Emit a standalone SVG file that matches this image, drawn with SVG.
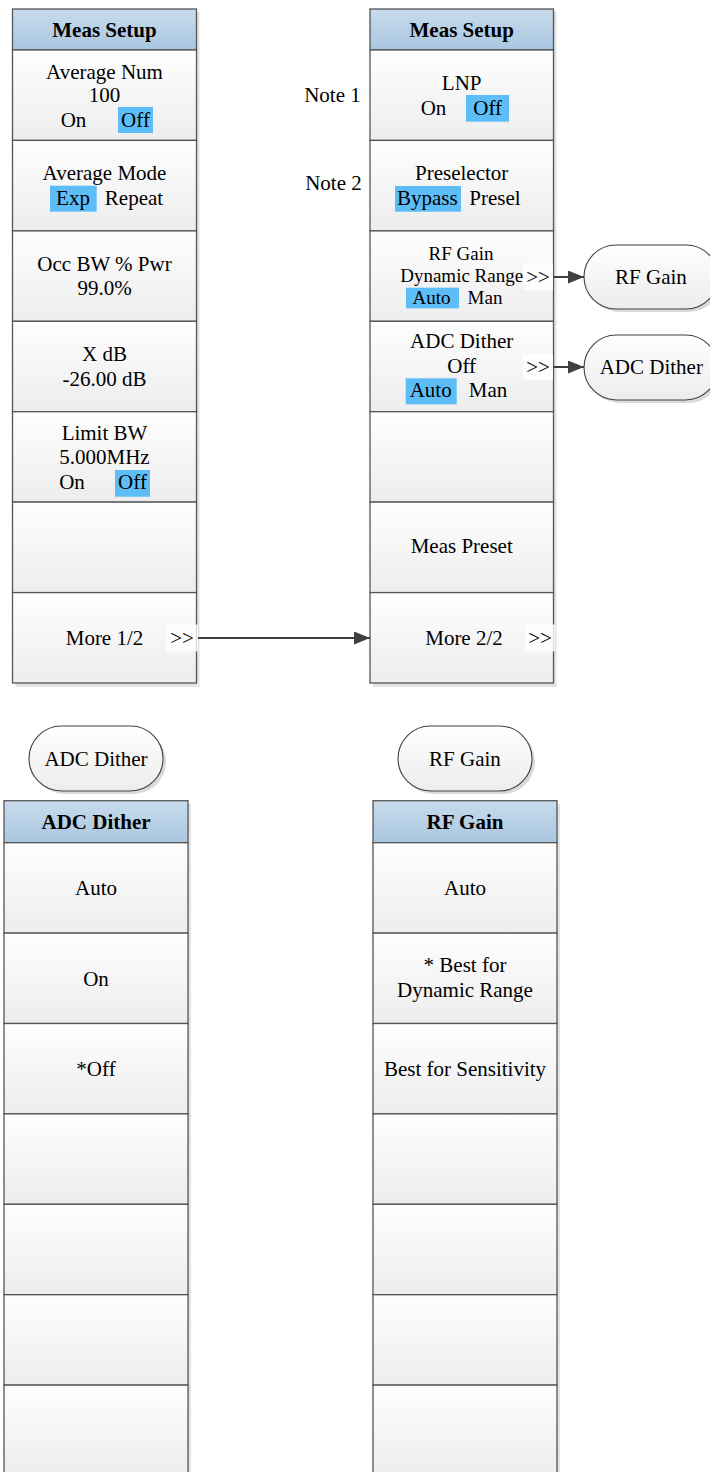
<svg xmlns="http://www.w3.org/2000/svg" width="710" height="1472" viewBox="0 0 710 1472">
<defs>
<linearGradient id="hg" x1="0" y1="0" x2="0" y2="1"><stop offset="0" stop-color="#c8dbec"/><stop offset="1" stop-color="#a9c6e0"/></linearGradient>
<linearGradient id="cg" x1="0" y1="0" x2="0" y2="1"><stop offset="0" stop-color="#fefefe"/><stop offset="1" stop-color="#ededed"/></linearGradient>
<linearGradient id="pg" x1="0" y1="0" x2="0" y2="1"><stop offset="0" stop-color="#ffffff"/><stop offset="1" stop-color="#ececec"/></linearGradient>
<marker id="ah" markerUnits="userSpaceOnUse" markerWidth="16" markerHeight="13" refX="16" refY="6.5" orient="auto"><path d="M0,0 L16,6.5 L0,13 z" fill="#404040"/></marker>
</defs>
<style>
text{font-family:"Liberation Serif","Times New Roman",serif;font-size:21px;fill:#000;text-anchor:middle}
.b{font-weight:bold}
.s{font-size:19px}
.h{fill:url(#hg);stroke:#555;stroke-width:1.3}
.c{fill:url(#cg);stroke:#555;stroke-width:1.3}
.sh{fill:#e3e3e3}
.hl{fill:#5dbdf7}
.pill{fill:url(#pg);stroke:#404040;stroke-width:1.1}
.psh{fill:#dadada}
.gt{fill:#ffffff;fill-opacity:0.8}
.ln{stroke:#404040;stroke-width:2;fill:none;marker-end:url(#ah)}
</style>

<g id="menu-meas-setup-1">
<rect class="sh" x="15.5" y="12" width="184" height="675"/>
<rect class="h" x="12.5" y="9" width="184" height="41"/>
<rect class="c" x="12.5" y="50" width="184" height="90.4"/>
<rect class="c" x="12.5" y="140.4" width="184" height="90.5"/>
<rect class="c" x="12.5" y="230.9" width="184" height="90.4"/>
<rect class="c" x="12.5" y="321.3" width="184" height="90.4"/>
<rect class="c" x="12.5" y="411.7" width="184" height="90.4"/>
<rect class="c" x="12.5" y="502.1" width="184" height="90.5"/>
<rect class="c" x="12.5" y="592.6" width="184" height="90.4"/>
<text class="b" x="104.5" y="36.5">Meas Setup</text>
<text x="104.5" y="78.5">Average Num</text>
<text x="104.5" y="101.5">100</text>
<text x="73.5" y="127">On</text>
<rect class="hl" x="118" y="107" width="35" height="26"/>
<text x="135.5" y="127">Off</text>
<text x="104.5" y="180">Average Mode</text>
<rect class="hl" x="50" y="185.7" width="46.7" height="26"/>
<text x="73" y="204.5">Exp</text>
<text x="134" y="204.5">Repeat</text>
<text x="104.5" y="270.5">Occ BW % Pwr</text>
<text x="104.5" y="295">99.0%</text>
<text x="104.5" y="361">X dB</text>
<text x="104.5" y="386">-26.00 dB</text>
<text x="104.5" y="440">Limit BW</text>
<text x="104.5" y="464.3">5.000MHz</text>
<text x="72" y="488.5">On</text>
<rect class="hl" x="115" y="470" width="35" height="26.7"/>
<text x="132.5" y="488.5">Off</text>
<text x="104.5" y="645">More 1/2</text>
<rect class="gt" x="166" y="624.5" width="32" height="27"/>
<text x="182" y="645">&gt;&gt;</text>
</g>

<g id="menu-meas-setup-2">
<rect class="sh" x="373" y="12" width="183.5" height="675"/>
<rect class="h" x="370" y="9" width="183.5" height="41"/>
<rect class="c" x="370" y="50" width="183.5" height="90.4"/>
<rect class="c" x="370" y="140.4" width="183.5" height="90.5"/>
<rect class="c" x="370" y="230.9" width="183.5" height="90.4"/>
<rect class="c" x="370" y="321.3" width="183.5" height="90.4"/>
<rect class="c" x="370" y="411.7" width="183.5" height="90.4"/>
<rect class="c" x="370" y="502.1" width="183.5" height="90.5"/>
<rect class="c" x="370" y="592.6" width="183.5" height="90.4"/>
<text class="b" x="461.7" y="36.5">Meas Setup</text>
<text x="461.7" y="90">LNP</text>
<text x="433.5" y="114.5">On</text>
<rect class="hl" x="466" y="95" width="43" height="26.7"/>
<text x="487.7" y="114.5">Off</text>
<text x="461.7" y="180">Preselector</text>
<rect class="hl" x="395" y="186" width="66" height="25.7"/>
<text x="427.3" y="204.5">Bypass</text>
<text x="495" y="204.5">Presel</text>
<text class="s" x="461" y="259.5">RF Gain</text>
<text class="s" x="461.7" y="282">Dynamic Range</text>
<rect class="gt" x="523" y="263" width="30" height="27"/>
<text x="538" y="284">&gt;&gt;</text>
<rect class="hl" x="406" y="287.7" width="53" height="20.6"/>
<text class="s" x="431.5" y="303.5">Auto</text>
<text class="s" x="485" y="303.5">Man</text>
<text x="461.7" y="348.3">ADC Dither</text>
<text x="461.7" y="372.7">Off</text>
<rect class="gt" x="523" y="354" width="30" height="26"/>
<text x="538" y="374">&gt;&gt;</text>
<rect class="hl" x="405.7" y="378.3" width="51" height="26"/>
<text x="430.7" y="396.7">Auto</text>
<text x="488" y="396.7">Man</text>
<text x="461.7" y="553.3">Meas Preset</text>
<text x="464" y="645">More 2/2</text>
<rect class="gt" x="525" y="624.5" width="30" height="27"/>
<text x="540" y="645">&gt;&gt;</text>
</g>

<g id="notes">
<text x="332.5" y="102.3">Note 1</text>
<text x="333.5" y="190">Note 2</text>
</g>

<g id="pill-rf-gain-top">
<rect class="psh" x="587" y="248" width="134" height="64" rx="32"/>
<rect class="pill" x="584" y="245" width="134" height="64" rx="32"/>
<text x="651" y="284">RF Gain</text>
</g>
<g id="pill-adc-dither-top">
<rect class="psh" x="587" y="338" width="134" height="65" rx="32.5"/>
<rect class="pill" x="584" y="335" width="134" height="65" rx="32.5"/>
<text x="651.3" y="373.5">ADC Dither</text>
</g>

<g id="pill-adc-dither">
<rect class="psh" x="32" y="729" width="134" height="65" rx="32.5"/>
<rect class="pill" x="29" y="726" width="134" height="65" rx="32.5"/>
<text x="96" y="765.5">ADC Dither</text>
</g>
<g id="pill-rf-gain">
<rect class="psh" x="401" y="729" width="134" height="65" rx="32.5"/>
<rect class="pill" x="398" y="726" width="134" height="65" rx="32.5"/>
<text x="465" y="765.5">RF Gain</text>
</g>

<g id="menu-adc-dither">
<rect class="sh" x="7" y="804" width="184" height="680"/>
<rect class="h" x="4" y="800.7" width="184" height="42"/>
<rect class="c" x="4" y="842.7" width="184" height="90.4"/>
<rect class="c" x="4" y="933.1" width="184" height="90.4"/>
<rect class="c" x="4" y="1023.5" width="184" height="90.4"/>
<rect class="c" x="4" y="1113.9" width="184" height="90.4"/>
<rect class="c" x="4" y="1204.3" width="184" height="90.4"/>
<rect class="c" x="4" y="1294.7" width="184" height="90.4"/>
<rect class="c" x="4" y="1385.1" width="184" height="90.4"/>
<text class="b" x="96" y="828.7">ADC Dither</text>
<text x="96" y="895">Auto</text>
<text x="96" y="985.5">On</text>
<text x="96" y="1075.5">*Off</text>
</g>

<g id="menu-rf-gain">
<rect class="sh" x="376" y="804" width="184" height="680"/>
<rect class="h" x="373" y="800.7" width="184" height="42"/>
<rect class="c" x="373" y="842.7" width="184" height="90.4"/>
<rect class="c" x="373" y="933.1" width="184" height="90.4"/>
<rect class="c" x="373" y="1023.5" width="184" height="90.4"/>
<rect class="c" x="373" y="1113.9" width="184" height="90.4"/>
<rect class="c" x="373" y="1204.3" width="184" height="90.4"/>
<rect class="c" x="373" y="1294.7" width="184" height="90.4"/>
<rect class="c" x="373" y="1385.1" width="184" height="90.4"/>
<text class="b" x="465" y="828.7">RF Gain</text>
<text x="465" y="895">Auto</text>
<text x="465" y="972">* Best for</text>
<text x="465" y="997">Dynamic Range</text>
<text x="465" y="1075.7">Best for Sensitivity</text>
</g>

<g id="connectors">
<line class="ln" x1="553.5" y1="277" x2="584" y2="277"/>
<line class="ln" x1="553.5" y1="367" x2="584" y2="367"/>
<line class="ln" x1="198" y1="638" x2="370" y2="638"/>
</g>
</svg>
